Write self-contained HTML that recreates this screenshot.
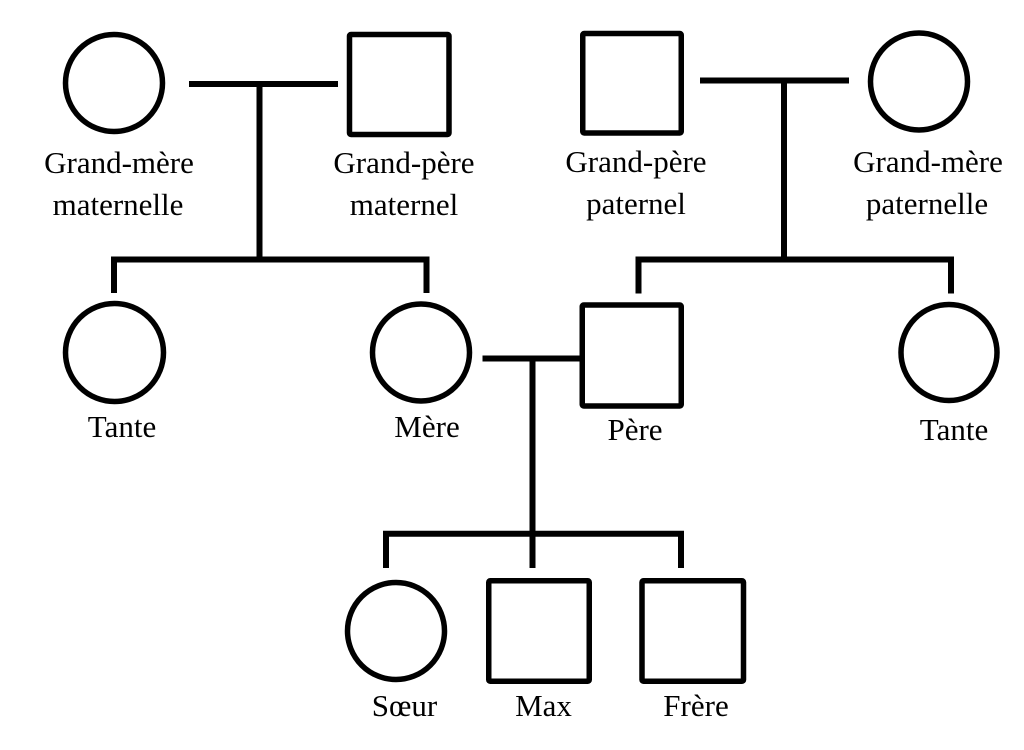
<!DOCTYPE html>
<html>
<head>
<meta charset="utf-8">
<style>
  html, body { margin: 0; padding: 0; background: #ffffff; }
  body { width: 1024px; height: 750px; overflow: hidden; }
  svg { display: block; }
  text { font-family: "Liberation Serif", "Times New Roman", serif; font-size: 31px; fill: #000; }
</style>
</head>
<body>
<svg width="1024" height="750" viewBox="0 0 1024 750" xmlns="http://www.w3.org/2000/svg">
  <g fill="none" stroke="#000" stroke-width="5.5" stroke-linejoin="round">
    <!-- Maternal grandparents -->
    <circle cx="114" cy="83" r="48.5"/>
    <rect x="349.5" y="34.5" width="99.5" height="100" rx="1.5"/>
    <!-- Paternal grandparents -->
    <rect x="582.75" y="33.5" width="98.5" height="99.5" rx="1.5"/>
    <circle cx="919" cy="81.5" r="48.5"/>

    <!-- Second generation -->
    <circle cx="114.5" cy="352.5" r="49"/>
    <circle cx="421" cy="352.5" r="48.5"/>
    <rect x="582.25" y="305" width="99" height="101" rx="1.5"/>
    <circle cx="949" cy="352.5" r="48"/>

    <!-- Children -->
    <circle cx="396" cy="631" r="48.5"/>
    <rect x="488.75" y="580.75" width="100.5" height="100.5" rx="1.5"/>
    <rect x="642" y="580.75" width="101.5" height="100.5" rx="1.5"/>
  </g>

  <g fill="none" stroke="#000" stroke-width="6" stroke-linejoin="miter" stroke-linecap="butt">
    <!-- Maternal marriage line and descent -->
    <line x1="189" y1="84" x2="338" y2="84"/>
    <line x1="259.5" y1="84" x2="259.5" y2="259.5"/>
    <path d="M114,293 V259.5 H426.5 V293"/>

    <!-- Paternal marriage line and descent -->
    <line x1="700" y1="80.5" x2="849" y2="80.5"/>
    <line x1="784" y1="80.5" x2="784" y2="259.5"/>
    <path d="M638.5,293.5 V259.5 H951 V293.5"/>

    <!-- Parents marriage line and descent -->
    <line x1="482.5" y1="358.5" x2="580" y2="358.5"/>
    <line x1="532.5" y1="358.5" x2="532.5" y2="568"/>
    <path d="M386,568 V533.7 H681 V568"/>
  </g>

  <g text-anchor="middle">
    <text x="119" y="173">Grand-mère</text>
    <text x="118" y="215">maternelle</text>
    <text x="404" y="173">Grand-père</text>
    <text x="404" y="215">maternel</text>
    <text x="636" y="172">Grand-père</text>
    <text x="636" y="214">paternel</text>
    <text x="928" y="172">Grand-mère</text>
    <text x="927" y="214">paternelle</text>

    <text x="122" y="437">Tante</text>
    <text x="427" y="437">Mère</text>
    <text x="635" y="440">Père</text>
    <text x="954" y="440">Tante</text>

    <text x="404.5" y="716">Sœur</text>
    <text x="543.5" y="716">Max</text>
    <text x="696" y="716">Frère</text>
  </g>
</svg>
</body>
</html>
